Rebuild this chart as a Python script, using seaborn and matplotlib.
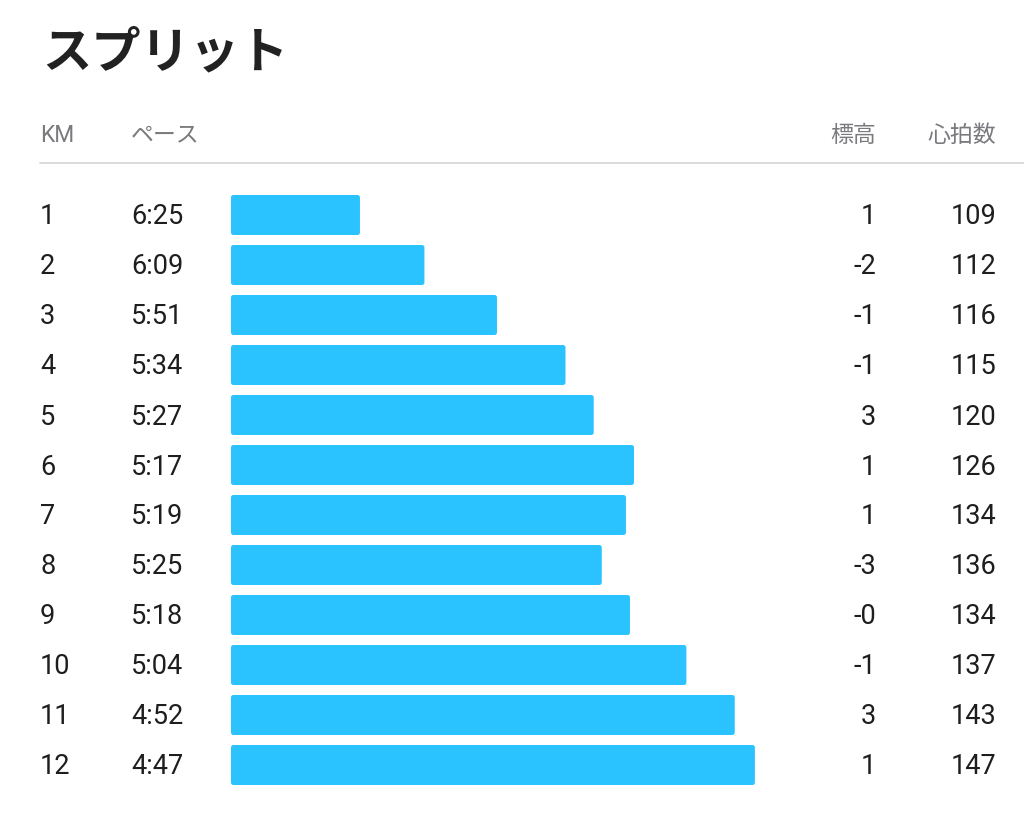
import numpy as np
import pandas as pd
import matplotlib
matplotlib.use('Agg')
import matplotlib.pyplot as plt
import matplotlib.transforms as mtransforms
from matplotlib.patches import FancyBboxPatch
import seaborn as sns

# split data
km = ['1', '2', '3', '4', '5', '6', '7', '8', '9', '10', '11', '12']
pace = ['6:25', '6:09', '5:51', '5:34', '5:27', '5:17', '5:19', '5:25', '5:18', '5:04', '4:52', '4:47']
elevation = ['1', '-2', '-1', '-1', '3', '1', '1', '-3', '-0', '-1', '3', '1']
heart_rate = [109, 112, 116, 115, 120, 126, 134, 136, 134, 137, 143, 147]

title = 'スプリット'
headers = ['KM', 'ペース', '標高', '心拍数']

# bar length grows as pace gets faster; zero length at ~6:57 /km
slowest_ref = 417

df = pd.DataFrame({'km': km, 'pace': pace, 'elev': elevation, 'hr': heart_rate})
df['pace_sec'] = df['pace'].apply(lambda p: int(p.split(':')[0]) * 60 + int(p.split(':')[1]))
df['bar'] = slowest_ref - df['pace_sec']

sns.set_theme(style='white')
plt.rcParams['font.family'] = ['Roboto', 'Noto Sans CJK JP', 'DejaVu Sans']
cjk = ['Noto Sans CJK JP', 'DejaVu Sans']

W, H = 1024, 821
fig = plt.figure(figsize=(W / 100, H / 100), dpi=100)
fig.patch.set_facecolor('white')

ax = fig.add_axes([231 / W, 1 - 790 / H, 600 / W, 600 / H])
sns.barplot(data=df, x='bar', y='km', orient='h', color='#2ac3ff', width=0.8,
            saturation=1, ax=ax)
xmax = 600 / 4.03
ax.set_xlim(0, xmax)
ax.set_ylim(11.5, -0.5)
ax.axis('off')

# slightly rounded bar corners
rad_px = 2.5
x_per_px = xmax / 600
y_per_px = 12 / 600
for p in list(ax.patches):
    x0, y0, w, h = p.get_x(), p.get_y(), p.get_width(), p.get_height()
    fb = FancyBboxPatch((x0, y0), w, h,
                        boxstyle='round,pad=0,rounding_size=%f' % (rad_px * x_per_px),
                        mutation_aspect=y_per_px / x_per_px,
                        facecolor=p.get_facecolor(), edgecolor='none')
    p.remove()
    ax.add_patch(fb)

txt_color = '#1e1e1e'
head_color = '#7a7a7e'
fs_row = 19.5
fs_head = 16.5

# title and header
fig.text(42 / W, 1 - 53 / H, title, fontsize=35.5, weight='bold', color='#222222',
         va='center', family=cjk)
hy = 1 - 141.5 / H
fig.text(40 / W, hy, headers[0], fontsize=fs_head, color=head_color, va='baseline')
fig.text(131 / W, hy, headers[1], fontsize=fs_head, color=head_color, va='baseline', family=cjk)
fig.text(876 / W, hy, headers[2], fontsize=fs_head, color=head_color, va='baseline', ha='right', family=cjk)
fig.text(996 / W, hy, headers[3], fontsize=fs_head, color=head_color, va='baseline', ha='right', family=cjk)
fig.add_artist(plt.Line2D([40 / W, 1.0], [1 - 163 / H, 1 - 163 / H], color='#d9d9d9', lw=1.3,
                          transform=fig.transFigure))

# row texts, placed on the bar axis row positions (baseline sits ~9.5px below row center)
tr = mtransforms.blended_transform_factory(fig.transFigure, ax.transData)
off = 9.5 * y_per_px
kw = dict(transform=tr, fontsize=fs_row, color=txt_color, va='baseline', clip_on=False)
for i, row in df.iterrows():
    ax.text(40 / W, i + off, row['km'], **kw)
    ax.text(131 / W, i + off, row['pace'], **kw)
    ax.text(876 / W, i + off, row['elev'], ha='right', **kw)
    ax.text(996 / W, i + off, str(row['hr']), ha='right', **kw)

fig.savefig('out.png', dpi=100)
